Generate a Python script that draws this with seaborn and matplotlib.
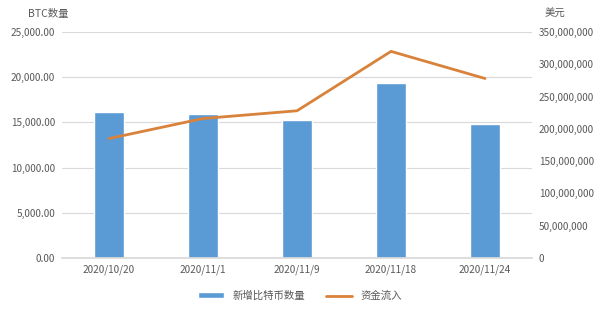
import matplotlib
matplotlib.use("Agg")
import matplotlib.pyplot as plt
import matplotlib.ticker as mticker
import seaborn as sns
import pandas as pd

dates = ["2020/10/20", "2020/11/1", "2020/11/9", "2020/11/18", "2020/11/24"]
btc_new = [16100, 15950, 15250, 19350, 14800]
fund_inflow = [185000000, 216000000, 228000000, 320000000, 278000000]

sns.set_theme(style="white")
plt.rcParams['font.family'] = ['Noto Sans CJK SC', 'DejaVu Sans']

df = pd.DataFrame({"date": dates, "btc": btc_new, "fund": fund_inflow})

fig = plt.figure(figsize=(6, 3.12), dpi=100)
ax = fig.add_axes([62/600, 1-258/312, (532-62)/600, (258-32)/312])
ax2 = ax.twinx()

sns.barplot(data=df, x="date", y="btc", color="#5B9BD5", width=0.31, ax=ax,
            saturation=1, label="新增比特币数量")
sns.lineplot(x=list(range(len(dates))), y=df["fund"], color="#D9823B", linewidth=2,
             ax=ax2, label="资金流入")

ax.set_ylim(0, 25000)
ax.set_yticks(range(0, 25001, 5000))
ax.yaxis.set_major_formatter(mticker.FuncFormatter(lambda v, p: f"{v:,.2f}"))
ax2.set_ylim(0, 350000000)
ax2.set_yticks(range(0, 350000001, 50000000))
ax2.yaxis.set_major_formatter(mticker.FuncFormatter(lambda v, p: f"{int(v):,}"))
ax.set_xlim(-0.5, len(dates) - 0.5)

ax.grid(axis="y", color="#D9D9D9", linewidth=0.8)
ax.set_axisbelow(True)
for a in (ax, ax2):
    for s in a.spines.values():
        s.set_visible(False)
ax.spines["bottom"].set_visible(True)
ax.spines["bottom"].set_color("#D9D9D9")
ax.tick_params(axis="both", colors="#595959", labelsize=7.2, length=0, pad=5)
ax2.tick_params(axis="y", colors="#595959", labelsize=7.2, length=0, pad=5)
ax.set_xlabel("")
ax.set_ylabel("")
ax2.set_ylabel("")

fig.text(48/600, 1-14/312, "BTC数量", fontsize=7.5, color="#595959", ha="center", va="center")
fig.text(555/600, 1-14/312, "美元", fontsize=7.5, color="#595959", ha="center", va="center")

h1, l1 = ax.get_legend_handles_labels()
h2, l2 = ax2.get_legend_handles_labels()
if ax.get_legend():
    ax.get_legend().remove()
if ax2.get_legend():
    ax2.get_legend().remove()
fig.legend(h1 + h2, l1 + l2, loc="center", bbox_to_anchor=(300/600, 1-296/312), ncol=2,
           frameon=False, fontsize=7.5, labelcolor="#595959", handlelength=2.5,
           handleheight=0.5, columnspacing=2)

fig.savefig("out.png", dpi=100)
